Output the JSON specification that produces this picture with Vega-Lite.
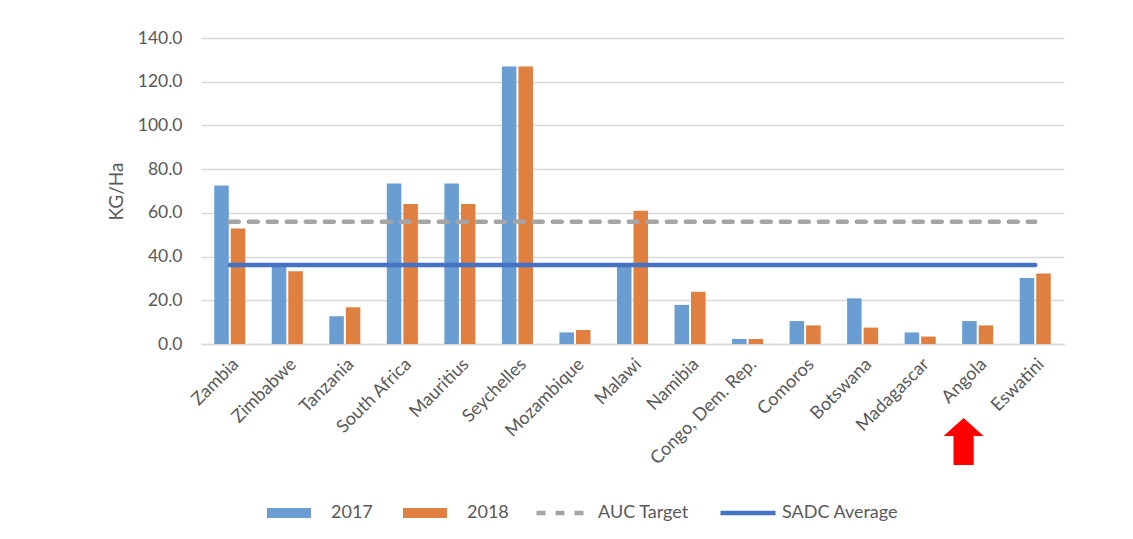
{
  "$schema": "https://vega.github.io/schema/vega-lite/v6.json",
  "width": 863,
  "height": 306,
  "padding": {"left": 107, "top": 29, "right": 5, "bottom": 5},
  "background": "white",
  "config": {
    "view": {"stroke": null},
    "font": "Lato",
    "axis": {"labelFont": "Lato", "titleFont": "Lato", "labelColor": "#595959", "titleColor": "#595959"},
    "legend": {"labelFont": "Lato", "labelColor": "#595959", "labelFontSize": 18}
  },
  "datasets": {
    "bars": [
      {"country": "Zambia", "year": "2017", "value": 72.5},
      {"country": "Zambia", "year": "2018", "value": 52.8},
      {"country": "Zimbabwe", "year": "2017", "value": 36.2},
      {"country": "Zimbabwe", "year": "2018", "value": 33.3},
      {"country": "Tanzania", "year": "2017", "value": 12.7},
      {"country": "Tanzania", "year": "2018", "value": 16.8},
      {"country": "South Africa", "year": "2017", "value": 73.4},
      {"country": "South Africa", "year": "2018", "value": 64.1},
      {"country": "Mauritius", "year": "2017", "value": 73.4},
      {"country": "Mauritius", "year": "2018", "value": 64.1},
      {"country": "Seychelles", "year": "2017", "value": 127.0},
      {"country": "Seychelles", "year": "2018", "value": 127.0},
      {"country": "Mozambique", "year": "2017", "value": 5.3},
      {"country": "Mozambique", "year": "2018", "value": 6.4},
      {"country": "Malawi", "year": "2017", "value": 36.9},
      {"country": "Malawi", "year": "2018", "value": 61.0},
      {"country": "Namibia", "year": "2017", "value": 17.9},
      {"country": "Namibia", "year": "2018", "value": 23.9},
      {"country": "Congo, Dem. Rep.", "year": "2017", "value": 2.3},
      {"country": "Congo, Dem. Rep.", "year": "2018", "value": 2.3},
      {"country": "Comoros", "year": "2017", "value": 10.5},
      {"country": "Comoros", "year": "2018", "value": 8.5},
      {"country": "Botswana", "year": "2017", "value": 20.9},
      {"country": "Botswana", "year": "2018", "value": 7.5},
      {"country": "Madagascar", "year": "2017", "value": 5.3},
      {"country": "Madagascar", "year": "2018", "value": 3.4},
      {"country": "Angola", "year": "2017", "value": 10.5},
      {"country": "Angola", "year": "2018", "value": 8.5},
      {"country": "Eswatini", "year": "2017", "value": 30.2},
      {"country": "Eswatini", "year": "2018", "value": 32.2}
    ],
    "lines": [
      {"country": "Zambia", "series": "AUC Target", "value": 55.9},
      {"country": "Zimbabwe", "series": "AUC Target", "value": 55.9},
      {"country": "Tanzania", "series": "AUC Target", "value": 55.9},
      {"country": "South Africa", "series": "AUC Target", "value": 55.9},
      {"country": "Mauritius", "series": "AUC Target", "value": 55.9},
      {"country": "Seychelles", "series": "AUC Target", "value": 55.9},
      {"country": "Mozambique", "series": "AUC Target", "value": 55.9},
      {"country": "Malawi", "series": "AUC Target", "value": 55.9},
      {"country": "Namibia", "series": "AUC Target", "value": 55.9},
      {"country": "Congo, Dem. Rep.", "series": "AUC Target", "value": 55.9},
      {"country": "Comoros", "series": "AUC Target", "value": 55.9},
      {"country": "Botswana", "series": "AUC Target", "value": 55.9},
      {"country": "Madagascar", "series": "AUC Target", "value": 55.9},
      {"country": "Angola", "series": "AUC Target", "value": 55.9},
      {"country": "Eswatini", "series": "AUC Target", "value": 55.9},
      {"country": "Zambia", "series": "SADC Average", "value": 36.2},
      {"country": "Zimbabwe", "series": "SADC Average", "value": 36.2},
      {"country": "Tanzania", "series": "SADC Average", "value": 36.2},
      {"country": "South Africa", "series": "SADC Average", "value": 36.2},
      {"country": "Mauritius", "series": "SADC Average", "value": 36.2},
      {"country": "Seychelles", "series": "SADC Average", "value": 36.2},
      {"country": "Mozambique", "series": "SADC Average", "value": 36.2},
      {"country": "Malawi", "series": "SADC Average", "value": 36.2},
      {"country": "Namibia", "series": "SADC Average", "value": 36.2},
      {"country": "Congo, Dem. Rep.", "series": "SADC Average", "value": 36.2},
      {"country": "Comoros", "series": "SADC Average", "value": 36.2},
      {"country": "Botswana", "series": "SADC Average", "value": 36.2},
      {"country": "Madagascar", "series": "SADC Average", "value": 36.2},
      {"country": "Angola", "series": "SADC Average", "value": 36.2},
      {"country": "Eswatini", "series": "SADC Average", "value": 36.2}
    ],
    "arrow": [
      {"country": "Angola", "value": -44.6}
    ]
  },
  "encoding": {
    "x": {
      "field": "country",
      "type": "nominal",
      "sort": null,
      "scale": {"paddingInner": 0.46, "paddingOuter": 0.23},
      "axis": {
        "title": null,
        "labelAngle": -45,
        "labelFontSize": 18,
        "labelPadding": 11,
        "ticks": false,
        "domainColor": "#d9d9d9",
        "domainWidth": 1.5,
        "grid": false
      }
    },
    "y": {
      "field": "value",
      "type": "quantitative",
      "scale": {"domain": [0, 140], "nice": false},
      "axis": {
        "title": "KG/Ha",
        "titleFontSize": 19,
        "titleFontWeight": "normal",
        "titlePadding": 11,
        "labelFontSize": 17.5,
        "labelPadding": 19,
        "values": [0, 20, 40, 60, 80, 100, 120, 140],
        "format": ".1f",
        "ticks": false,
        "domain": false,
        "gridColor": "#d9d9d9",
        "gridWidth": 1.5
      }
    }
  },
  "layer": [
    {
      "data": {"name": "bars"},
      "mark": {"type": "bar"},
      "encoding": {
        "xOffset": {"field": "year", "type": "nominal", "scale": {"paddingInner": 0.12}},
        "fill": {
          "field": "year",
          "type": "nominal",
          "scale": {"domain": ["2017", "2018"], "range": ["#6a9ed2", "#df7f40"]},
          "legend": {
            "title": null,
            "orient": "none",
            "legendX": 66,
            "legendY": 453,
            "direction": "horizontal",
            "padding": 0,
            "symbolType": "M-1,-0.23H1V0.23H-1Z",
            "symbolSize": 1936,
            "symbolStrokeWidth": 0,
            "labelOffset": 20,
            "columnPadding": 30
          }
        }
      }
    },
    {
      "data": {"name": "lines"},
      "mark": {"type": "line", "strokeWidth": 4.5, "strokeCap": "round"},
      "encoding": {
        "stroke": {
          "field": "series",
          "type": "nominal",
          "scale": {"domain": ["AUC Target", "SADC Average"], "range": ["#a5a5a5", "#4472c4"]},
          "legend": {
            "title": null,
            "orient": "none",
            "legendX": 333,
            "legendY": 445,
            "direction": "horizontal",
            "padding": 0,
            "symbolType": "stroke",
            "symbolSize": 3025,
            "symbolStrokeWidth": 4.5,
            "labelOffset": 4,
            "columnPadding": 22
          }
        },
        "strokeDash": {
          "field": "series",
          "type": "nominal",
          "scale": {"domain": ["AUC Target", "SADC Average"], "range": [[9, 10], [1, 0]]},
          "legend": {
            "title": null,
            "orient": "none",
            "legendX": 333,
            "legendY": 445,
            "direction": "horizontal",
            "padding": 0,
            "symbolType": "stroke",
            "symbolSize": 3025,
            "symbolStrokeWidth": 4.5,
            "labelOffset": 4,
            "columnPadding": 22
          }
        }
      }
    },
    {
      "data": {"name": "arrow"},
      "mark": {
        "type": "point",
        "shape": "M-0.6,-1L0.25,-0.23L-0.17,-0.23L-0.17,1L-1.03,1L-1.03,-0.23L-1.45,-0.23Z",
        "filled": true,
        "fill": "#ff0000",
        "stroke": null,
        "opacity": 1,
        "size": 2209
      },
      "encoding": {}
    }
  ]
}
